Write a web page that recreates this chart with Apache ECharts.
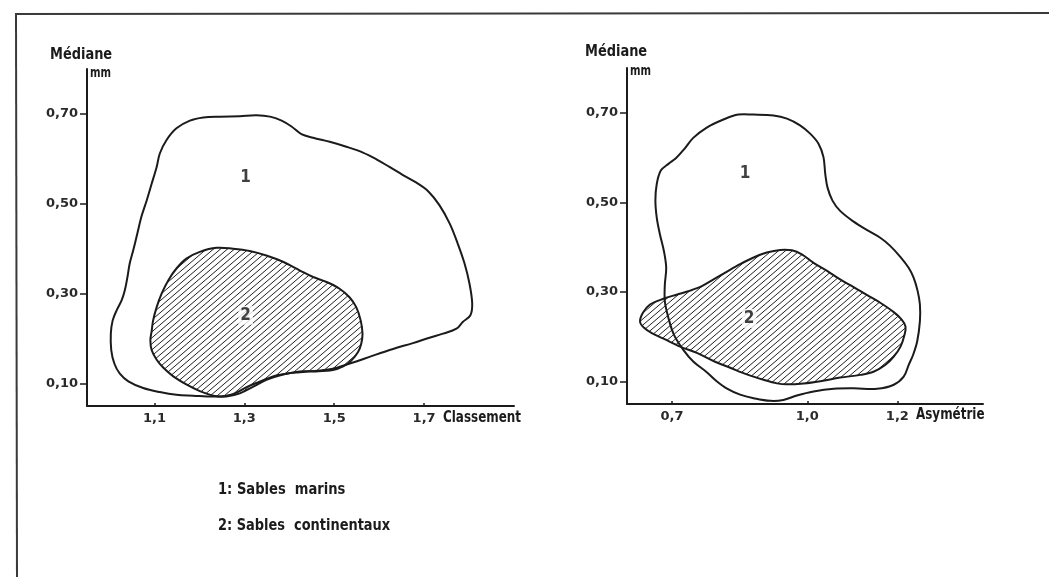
<!DOCTYPE html>
<html>
<head>
<meta charset="utf-8">
<script src="https://cdn.jsdelivr.net/npm/echarts@6/dist/echarts.min.js"></script>
<style>
html,body{margin:0;padding:0;background:#ffffff;}
#chart{width:1049px;height:577px;}
</style>
</head>
<body>
<div id="chart"></div>
<script>
// ---- Data ----
const leftXTicks = [1.1, 1.3, 1.5, 1.7];
const rightXTicks = [0.7, 1.0, 1.2];
const yTicks = [0.1, 0.3, 0.5, 0.7];

// Panel 1 : Médiane vs Classement
const leftMarins = [
  [1.112,0.612],[1.127,0.642],[1.149,0.668],[1.179,0.685],[1.209,0.692],[1.246,0.694],[1.290,0.695],
  [1.327,0.697],[1.357,0.694],[1.383,0.685],[1.405,0.672],[1.427,0.655],[1.453,0.647],[1.490,0.638],
  [1.527,0.627],[1.564,0.614],[1.594,0.599],[1.623,0.582],[1.653,0.564],[1.683,0.547],[1.709,0.528],
  [1.734,0.497],[1.757,0.456],[1.775,0.411],[1.790,0.367],[1.801,0.322],[1.807,0.278],[1.803,0.252],
  [1.786,0.237],[1.772,0.222],[1.742,0.211],[1.712,0.202],[1.675,0.190],[1.631,0.177],[1.586,0.162],
  [1.549,0.149],[1.527,0.142],[1.497,0.133],[1.468,0.129],[1.423,0.125],[1.394,0.122],[1.364,0.116],
  [1.334,0.104],[1.305,0.092],[1.279,0.078],[1.260,0.073],[1.231,0.071],[1.186,0.073],[1.149,0.075],
  [1.112,0.081],[1.075,0.090],[1.042,0.105],[1.023,0.122],[1.011,0.144],[1.004,0.174],[1.003,0.211],
  [1.007,0.240],[1.016,0.263],[1.027,0.285],[1.034,0.307],[1.040,0.337],[1.045,0.367],[1.053,0.397],
  [1.062,0.434],[1.071,0.471],[1.083,0.508],[1.094,0.545],[1.105,0.582]
];
const leftContinentaux = [
  [1.238,0.402],[1.275,0.400],[1.312,0.395],[1.349,0.385],[1.386,0.371],[1.423,0.352],[1.453,0.337],
  [1.483,0.326],[1.512,0.311],[1.534,0.292],[1.549,0.270],[1.559,0.240],[1.563,0.211],[1.560,0.188],
  [1.553,0.170],[1.538,0.151],[1.520,0.138],[1.497,0.130],[1.460,0.127],[1.423,0.127],[1.386,0.120],
  [1.349,0.108],[1.320,0.093],[1.290,0.078],[1.260,0.071],[1.231,0.073],[1.201,0.083],[1.171,0.098],
  [1.142,0.116],[1.120,0.135],[1.105,0.153],[1.094,0.174],[1.091,0.196],[1.094,0.218],[1.097,0.240],
  [1.105,0.270],[1.116,0.300],[1.131,0.330],[1.149,0.356],[1.171,0.378],[1.201,0.393]
];

// Panel 2 : Médiane vs Asymétrie
const rightMarins = [
  [0.881,0.696],[0.925,0.694],[0.955,0.687],[0.984,0.672],[1.007,0.653],[1.025,0.631],[1.036,0.601],
  [1.040,0.563],[1.045,0.533],[1.056,0.504],[1.073,0.481],[1.103,0.457],[1.133,0.438],[1.162,0.421],
  [1.184,0.403],[1.207,0.378],[1.225,0.354],[1.236,0.332],[1.245,0.302],[1.250,0.272],[1.250,0.235],
  [1.244,0.190],[1.235,0.160],[1.225,0.137],[1.214,0.111],[1.192,0.093],[1.155,0.084],[1.103,0.085],
  [1.059,0.084],[1.014,0.078],[0.977,0.069],[0.947,0.059],[0.918,0.057],[0.881,0.063],[0.851,0.071],
  [0.821,0.085],[0.799,0.101],[0.777,0.121],[0.747,0.145],[0.725,0.171],[0.704,0.205],[0.692,0.242],
  [0.684,0.279],[0.684,0.317],[0.687,0.354],[0.682,0.391],[0.673,0.429],[0.666,0.466],[0.663,0.504],
  [0.666,0.541],[0.675,0.571],[0.692,0.586],[0.709,0.599],[0.727,0.619],[0.747,0.644],[0.777,0.667],
  [0.814,0.685],[0.847,0.696]
];
const rightContinentaux = [
  [0.629,0.233],[0.635,0.253],[0.651,0.272],[0.681,0.285],[0.710,0.294],[0.740,0.303],[0.766,0.313],
  [0.792,0.328],[0.821,0.345],[0.851,0.362],[0.881,0.377],[0.910,0.388],[0.940,0.394],[0.966,0.393],
  [0.988,0.384],[1.014,0.365],[1.044,0.347],[1.073,0.328],[1.103,0.311],[1.133,0.293],[1.162,0.276],
  [1.192,0.255],[1.210,0.238],[1.218,0.223],[1.216,0.205],[1.207,0.178],[1.192,0.156],[1.173,0.137],
  [1.147,0.122],[1.118,0.115],[1.073,0.109],[1.029,0.101],[0.992,0.096],[0.955,0.094],[0.933,0.096],
  [0.903,0.104],[0.866,0.116],[0.829,0.131],[0.792,0.146],[0.755,0.164],[0.718,0.178],[0.681,0.196],
  [0.655,0.208],[0.638,0.220]
];

const leftZoneLabels = [[1.303,0.559,'1'],[1.303,0.252,'2']];
const rightZoneLabels = [[0.862,0.564,'1'],[0.871,0.241,'2']];
const legendLines = ['1: Sables  marins', '2: Sables  continentaux'];

// ---- Styling ----
const INK = '#1b1b1b';
const NARROW = "'DejaVu Sans Condensed','Liberation Sans Narrow','Roboto',sans-serif";
const TICKFONT = "'DejaVu Sans','Liberation Sans',sans-serif";

function makeHatch() {
  const w = 7, h = 6;
  const c = document.createElement('canvas');
  c.width = w; c.height = h;
  const ctx = c.getContext('2d');
  ctx.strokeStyle = '#202020';
  ctx.lineWidth = 1;
  for (let k = -1; k <= 1; k++) {
    ctx.beginPath();
    ctx.moveTo(-2 + k * w, h + 2 * h / w);
    ctx.lineTo(w + 2 + k * w, -2 * h / w);
    ctx.stroke();
  }
  return c;
}
const hatchImg = makeHatch();

function polySeries(name, points, xi, hatched) {
  return {
    type: 'custom',
    name: name,
    xAxisIndex: xi, yAxisIndex: xi,
    data: points,
    encode: { x: 0, y: 1 },
    silent: true,
    z: hatched ? 3 : 2,
    renderItem: function (params, api) {
      if (params.dataIndex !== 0) return;
      const pts = points.map(function (p) { return api.coord(p); });
      return {
        type: 'polygon',
        shape: { points: pts, smooth: 0.35 },
        style: {
          fill: hatched ? { image: hatchImg, repeat: 'repeat' } : 'none',
          stroke: INK,
          lineWidth: 2
        }
      };
    }
  };
}

function labelSeries(items, xi) {
  return {
    type: 'scatter',
    xAxisIndex: xi, yAxisIndex: xi,
    symbolSize: 0,
    silent: true,
    z: 5,
    data: items.map(function (d) { return { value: [d[0], d[1]], name: d[2] }; }),
    label: {
      show: true, position: 'inside', formatter: '{b}',
      fontFamily: NARROW, fontSize: 17, fontWeight: 'bold', color: '#111111',
      backgroundColor: '#ffffff', padding: [1, 2]
    }
  };
}

function xAxisDef(gi, min, max, ticks) {
  return {
    type: 'value', gridIndex: gi, min: min, max: max,
    splitLine: { show: false },
    axisLine: { show: true, onZero: false, lineStyle: { color: INK, width: 2 } },
    axisTick: { show: true, inside: true, length: 3, customValues: ticks, lineStyle: { color: INK, width: 1.5 } },
    axisLabel: {
      show: true, customValues: ticks, margin: 6,
      formatter: function (v) { return v.toFixed(1).replace('.', ','); },
      fontFamily: TICKFONT, fontWeight: 'bold', fontSize: 13, color: '#2a2a2a'
    }
  };
}
function yAxisDef(gi) {
  return {
    type: 'value', gridIndex: gi, min: 0.05, max: 0.80,
    splitLine: { show: false },
    axisLine: { show: true, onZero: false, lineStyle: { color: INK, width: 2 } },
    axisTick: { show: true, inside: false, length: 7, customValues: yTicks, lineStyle: { color: INK, width: 1.5 } },
    axisLabel: {
      show: true, customValues: yTicks, margin: 9,
      formatter: function (v) { return v.toFixed(2).replace('.', ','); },
      fontFamily: TICKFONT, fontWeight: 'bold', fontSize: 13, color: '#2a2a2a'
    }
  };
}

function label(text, x, y, size, sx) {
  return {
    type: 'text', x: x, y: y, scaleX: sx, silent: true,
    style: { text: text, font: 'bold ' + size + 'px ' + NARROW, fill: INK, verticalAlign: 'middle', align: 'left' }
  };
}

const chart = echarts.init(document.getElementById('chart'), null, { renderer: 'canvas' });
chart.setOption({
  backgroundColor: '#ffffff',
  animation: false,
  grid: [
    { left: 87, top: 69, width: 427, height: 337 },
    { left: 627, top: 68, width: 356, height: 336 }
  ],
  xAxis: [ xAxisDef(0, 0.95, 1.90, leftXTicks), xAxisDef(1, 0.60, 1.39, rightXTicks) ],
  yAxis: [ yAxisDef(0), yAxisDef(1) ],
  series: [
    polySeries('1: Sables marins', leftMarins, 0, false),
    polySeries('2: Sables continentaux', leftContinentaux, 0, true),
    polySeries('1: Sables marins', rightMarins, 1, false),
    polySeries('2: Sables continentaux', rightContinentaux, 1, true),
    labelSeries(leftZoneLabels, 0),
    labelSeries(rightZoneLabels, 1)
  ],
  graphic: [
    { type: 'line', shape: { x1: 15, y1: 14, x2: 1049, y2: 13 }, style: { stroke: '#3a3a3a', lineWidth: 2 }, silent: true },
    { type: 'line', shape: { x1: 16, y1: 14, x2: 17, y2: 577 }, style: { stroke: '#3a3a3a', lineWidth: 2 }, silent: true },
    label('Médiane', 50, 55, 16, 0.9),
    label('mm', 90, 73, 14, 0.8),
    label('Classement', 443, 418, 16, 0.83),
    label('Médiane', 585, 52, 16, 0.9),
    label('mm', 630, 71, 14, 0.8),
    label('Asymétrie', 916, 415, 16, 0.83),
    label(legendLines[0], 218, 490, 16, 0.91),
    label(legendLines[1], 218, 526, 16, 0.9)
  ]
});
</script>
</body>
</html>
